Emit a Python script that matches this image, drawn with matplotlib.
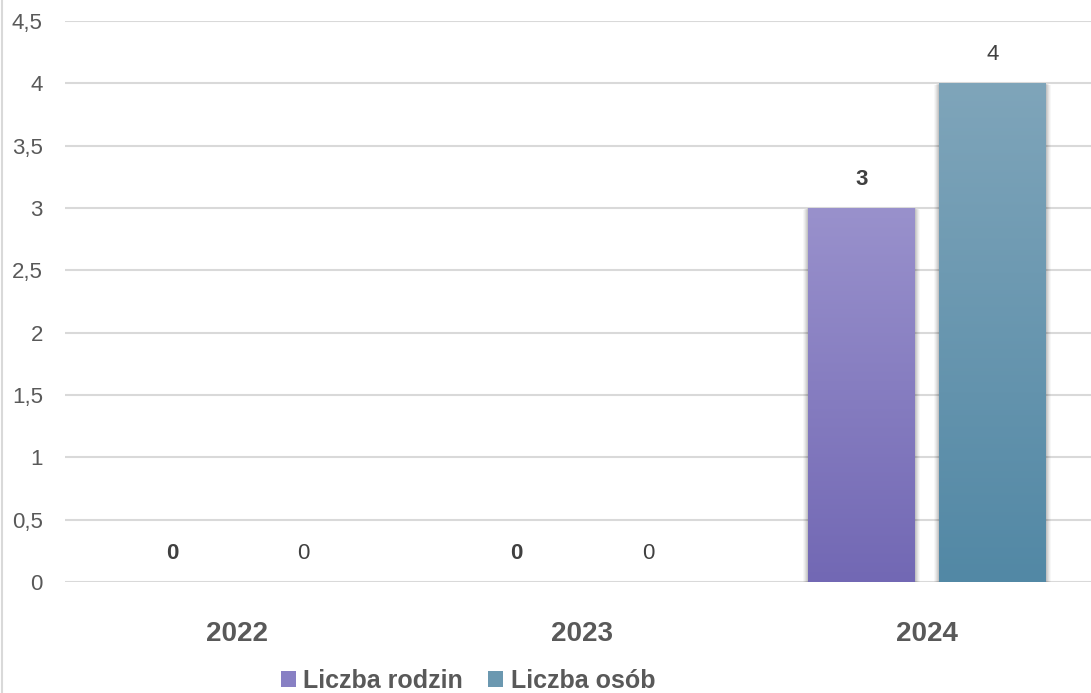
import numpy as np
import matplotlib.pyplot as plt
from matplotlib.patches import Rectangle, Patch
from matplotlib.lines import Line2D
from matplotlib.ticker import FuncFormatter

plt.rcParams['font.family'] = ['Liberation Sans', 'DejaVu Sans']

years = ["2022", "2023", "2024"]
rodziny = [0, 0, 3]
osoby = [0, 0, 4]
series = ["Liczba rodzin", "Liczba osób"]

# gradient colours (top, bottom)
purple = ("#9991cc", "#7268b4")
blue = ("#7fa5ba", "#5288a5")

fig = plt.figure(figsize=(10.91, 6.93), dpi=100)
W, H = 1091, 693
ax = fig.add_axes([65 / W, 1 - 582 / H, 1 - 65 / W, (582 - 21) / H])

x = np.arange(len(years))
bw = 0.31
off = 0.19
px_x = 1 / 345
px_y = 4.5 / 561


def grad_bar(xc, h, cols, bold):
    if h > 0:
        x0 = xc - bw / 2
        # soft shadow
        for k, a in zip(range(5, 0, -1), [0.03, 0.04, 0.05, 0.06, 0.07]):
            sh = Rectangle((x0 - k * px_x, 0 - k * px_y * 0.6), bw + 2 * k * px_x,
                           h + k * px_y * 0.3, facecolor="#000000", alpha=a,
                           edgecolor="none", zorder=2)
            ax.add_patch(sh)
        rect = Rectangle((x0, 0), bw, h, facecolor="none", edgecolor="none", zorder=3)
        ax.add_patch(rect)
        c1 = np.array(plt.matplotlib.colors.to_rgb(cols[0]))
        c2 = np.array(plt.matplotlib.colors.to_rgb(cols[1]))
        t = np.linspace(0, 1, 256)[:, None]
        img = (c1 * (1 - t) + c2 * t)[:, None, :]
        im = ax.imshow(img, extent=(x0, x0 + bw, 0, h), aspect="auto",
                       zorder=3, interpolation="bilinear")
        im.set_clip_path(rect)
    ax.annotate(str(h), (xc, h), xytext=(0, 13), textcoords="offset points",
                ha="center", va="bottom", fontsize=16,
                fontweight="bold" if bold else "normal", color="#404040", zorder=5)


for i in range(len(years)):
    grad_bar(x[i] - off, rodziny[i], purple, True)
    grad_bar(x[i] + off, osoby[i], blue, False)

ax.set_xlim(-0.5, 2.475)
ax.set_ylim(0, 4.5)
ax.set_yticks(np.arange(0, 4.51, 0.5))
ax.yaxis.set_major_formatter(FuncFormatter(lambda v, p: ("%g" % v).replace(".", ",")))
ax.set_xticks(x)
ax.set_xticklabels(years, fontsize=20, fontweight="bold", color="#595959")
ax.tick_params(axis="y", labelsize=16, labelcolor="#595959", length=0, pad=16)
ax.tick_params(axis="x", length=0, pad=28)
ax.grid(axis="y", color="#d9d9d9", linewidth=1.5)
ax.set_axisbelow(True)
for s in ax.spines.values():
    s.set_visible(False)

# chart border at left
fig.add_artist(Line2D([1.5 / W, 1.5 / W], [0, 1], color="#d9d9d9", linewidth=1.5))

handles = [Patch(facecolor="#8880c4", edgecolor="none"),
           Patch(facecolor="#6b98b0", edgecolor="none")]
fig.legend(handles, series, loc="center", bbox_to_anchor=(468 / W, 1 - 681 / H),
           ncol=2, frameon=False, prop={"weight": "bold", "size": 18},
           handlelength=0.6, handleheight=0.6, handletextpad=0.3, columnspacing=1.0,
           labelcolor="#595959")

fig.savefig("out.png", dpi=100)
